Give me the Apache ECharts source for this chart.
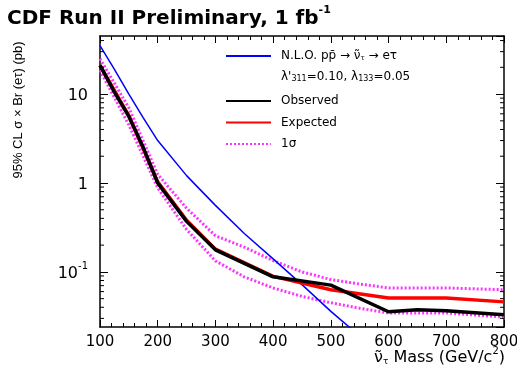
<!DOCTYPE html>
<html>
<head>
<meta charset="utf-8">
<script src="https://cdn.jsdelivr.net/npm/echarts@6/dist/echarts.min.js"></script>
<style>
  html, body { margin: 0; padding: 0; background: #fff; }
  #chart { width: 517px; height: 373px; }
</style>
</head>
<body>
<div id="chart"></div>
<script>
// NLO cross section for the tau sneutrino (pb) vs mass (GeV/c^2)
const nloMass  = [100, 125, 150, 175, 200, 250, 300, 350, 400, 450, 500, 550];
const nloXsec  = [35, 19, 10, 5.4, 3.0, 1.21, 0.56, 0.27, 0.14, 0.072, 0.036, 0.019];

// Observed 95% CL upper limit (pb)
const obsMass  = [100, 125, 150, 175, 200, 250, 300, 400, 500, 600, 650, 700, 800];
const obsLimit = [21, 10.5, 5.6, 2.5, 1.0, 0.37, 0.177, 0.088, 0.071, 0.0356, 0.0375, 0.0365, 0.033];

// Expected limit (pb)
const expMass  = [100, 150, 200, 250, 300, 400, 450, 500, 600, 700, 800];
const expLimit = [21, 5.7, 1.03, 0.38, 0.18, 0.089, 0.075, 0.063, 0.051, 0.051, 0.046];

// 1 sigma band around the expected limit (pb)
const bandMass  = [100, 150, 200, 250, 300, 350, 400, 450, 500, 550, 600, 700, 800];
const bandUpper = [25, 7, 1.25, 0.52, 0.255, 0.19, 0.134, 0.1, 0.082, 0.073, 0.066, 0.066, 0.063];
const bandLower = [18.5, 4.5, 0.88, 0.3, 0.133, 0.088, 0.066, 0.053, 0.045, 0.039, 0.0345, 0.0345, 0.031];

// Axis ranges and log minor tick positions
const xRange = [100, 800];
const yRange = [0.024, 45];
const yMinorTicks = [0.03, 0.04, 0.05, 0.06, 0.07, 0.08, 0.09,
                     0.2, 0.3, 0.4, 0.5, 0.6, 0.7, 0.8, 0.9,
                     2, 3, 4, 5, 6, 7, 8, 9,
                     20, 30, 40];

const zip = (xs, ys) => xs.map((x, i) => [x, ys[i]]);

const FONT = 'DejaVu Sans';
const FONT2 = 'Liberation Sans';
const MAGENTA = '#ff33ff';

const chart = echarts.init(document.getElementById('chart'), null, { renderer: 'canvas' });

const baseX = {
  type: 'value', min: xRange[0], max: xRange[1], interval: 100,
  axisLine: { show: true, onZero: false, lineStyle: { color: '#000', width: 1.5 } },
  axisTick: { show: true, inside: true, length: 7, lineStyle: { color: '#000', width: 1 } },
  minorTick: { show: true, splitNumber: 5, length: 4, lineStyle: { color: '#000', width: 1 } },
  splitLine: { show: false }
};
const baseY = {
  type: 'log', logBase: 10, min: yRange[0], max: yRange[1],
  axisLine: { show: true, lineStyle: { color: '#000', width: 1.5 } },
  axisTick: { show: true, inside: true, length: 8, lineStyle: { color: '#000', width: 1 } },
  splitLine: { show: false }
};

const nloLabel = 'N.L.O. p{ov|p\u0304} \u2192 {t|\u03bd\u0303}{sub|\u03c4} \u2192 e\u03c4';

chart.setOption({
  animation: false,
  backgroundColor: '#fff',
  title: {
    text: '{t|CDF Run II Preliminary, 1 fb}{sup|-1}',
    left: 2, top: 0,
    textStyle: {
      rich: {
        t: { fontFamily: FONT, fontWeight: 'bold', fontSize: 20, color: '#000', verticalAlign: 'bottom', lineHeight: 24 },
        sup: { fontFamily: FONT, fontWeight: 'bold', fontSize: 11, color: '#000', verticalAlign: 'top', lineHeight: 24 }
      }
    }
  },
  grid: { left: 100, right: 13, top: 36, bottom: 46, containLabel: false, outerBoundsMode: 'none' },
  xAxis: [
    Object.assign({}, baseX, {
      position: 'bottom',
      axisLabel: { show: true, color: '#000', fontFamily: FONT, fontSize: 15, margin: 8 }
    }),
    Object.assign({}, baseX, { position: 'top', axisLabel: { show: false } })
  ],
  yAxis: [
    Object.assign({}, baseY, {
      position: 'left',
      axisLabel: {
        show: true, showMinLabel: false, showMaxLabel: false, margin: 12,
        color: '#000', fontFamily: FONT, fontSize: 16,
        formatter: v => {
          const e = Math.round(Math.log10(v));
          if (e >= 0) return '{b|' + Math.pow(10, e) + '}';
          return '{b|10}{s|' + e + '}';
        },
        rich: {
          b: { fontFamily: FONT, fontSize: 16, color: '#000', verticalAlign: 'bottom', lineHeight: 20 },
          s: { fontFamily: FONT, fontSize: 10, color: '#000', verticalAlign: 'top', lineHeight: 20 }
        }
      }
    }),
    Object.assign({}, baseY, { position: 'right', axisLabel: { show: false } })
  ],
  legend: [
    {
      data: ['nlo'], orient: 'vertical', left: 225, top: 50, padding: 0,
      itemWidth: 45, itemHeight: 12,
      itemStyle: { opacity: 0 },
      formatter: () => nloLabel,
      textStyle: {
        fontFamily: FONT, fontSize: 12, color: '#000', padding: [0, 0, 0, 5],
        rich: {
          ov: { fontFamily: FONT, fontSize: 12, color: '#000' },
          t: { fontFamily: FONT, fontSize: 12, color: '#000' },
          sub: { fontFamily: FONT, fontSize: 7, color: '#000', verticalAlign: 'bottom', lineHeight: 10 }
        }
      }
    },
    {
      data: ['Observed', 'Expected', '1\u03c3'], orient: 'vertical', left: 225, top: 95, padding: 0,
      itemWidth: 45, itemHeight: 14, itemGap: 9.5,
      itemStyle: { opacity: 0 },
      textStyle: { fontFamily: FONT, fontSize: 12, color: '#000', padding: [0, 0, 0, 5] }
    }
  ],
  graphic: [
    {
      type: 'text', left: 281, top: 71,
      style: {
        text: '\u03bb\'{s|311}=0.10, \u03bb{s|133}=0.05',
        fontFamily: FONT, fontSize: 12, fill: '#000',
        rich: { s: { fontFamily: FONT, fontSize: 8, fill: '#000', verticalAlign: 'bottom', lineHeight: 12 } }
      }
    },
    {
      type: 'text', x: 18, y: 110, rotation: Math.PI / 2,
      style: {
        text: '95% CL \u03c3 \u00d7 Br (e\u03c4) (pb)',
        fontFamily: FONT2, fontSize: 13, fill: '#000',
        align: 'center', verticalAlign: 'middle'
      }
    },
    {
      // x-axis title, right-aligned under the tick labels
      type: 'text', x: 505, y: 356,
      style: {
        text: '{t|\u03bd\u0303}{sub|\u03c4}{t| Mass (GeV/c}{sup|2}{t|)}',
        align: 'right', verticalAlign: 'middle',
        rich: {
          t: { fontFamily: FONT, fontSize: 16, fill: '#000', verticalAlign: 'bottom', lineHeight: 20 },
          sub: { fontFamily: FONT, fontSize: 9, fill: '#000', verticalAlign: 'bottom', lineHeight: 16 },
          sup: { fontFamily: FONT, fontSize: 10, fill: '#000', verticalAlign: 'top', lineHeight: 20 }
        }
      }
    }
  ],
  series: [
    {
      name: 'nlo', type: 'line', data: zip(nloMass, nloXsec),
      showSymbol: false, symbol: 'none', smooth: false, z: 3,
      lineStyle: { color: '#0000ff', width: 1.5 }, itemStyle: { color: '#0000ff' }
    },
    {
      name: '1\u03c3', type: 'line', data: zip(bandMass, bandUpper),
      showSymbol: false, symbol: 'none', z: 2,
      lineStyle: { color: MAGENTA, width: 3, type: [2, 2] }, itemStyle: { color: MAGENTA }
    },
    {
      name: '1\u03c3', type: 'line', data: zip(bandMass, bandLower),
      showSymbol: false, symbol: 'none', z: 2,
      lineStyle: { color: MAGENTA, width: 3, type: [2, 2] }, itemStyle: { color: MAGENTA }
    },
    {
      name: 'Expected', type: 'line', data: zip(expMass, expLimit),
      showSymbol: false, symbol: 'none', z: 4,
      lineStyle: { color: '#ff0000', width: 3.5 }, itemStyle: { color: '#ff0000' }
    },
    {
      name: 'Observed', type: 'line', data: zip(obsMass, obsLimit),
      showSymbol: false, symbol: 'none', z: 5,
      lineStyle: { color: '#000', width: 3.5 }, itemStyle: { color: '#000' }
    },
    {
      // log-scale minor ticks on the left and right frame edges
      name: 'yMinor', type: 'custom', silent: true, z: 6, clip: false,
      data: yMinorTicks.map(v => [xRange[0], v]),
      encode: { x: 0, y: 1 },
      renderItem: (params, api) => {
        const v = api.value(1);
        const l = api.coord([xRange[0], v]);
        const r = api.coord([xRange[1], v]);
        const st = { stroke: '#000', lineWidth: 1 };
        return {
          type: 'group',
          children: [
            { type: 'line', shape: { x1: l[0], y1: l[1], x2: l[0] + 4, y2: l[1] }, style: st },
            { type: 'line', shape: { x1: r[0], y1: r[1], x2: r[0] - 4, y2: r[1] }, style: st }
          ]
        };
      }
    }
  ]
});
</script>
</body>
</html>
